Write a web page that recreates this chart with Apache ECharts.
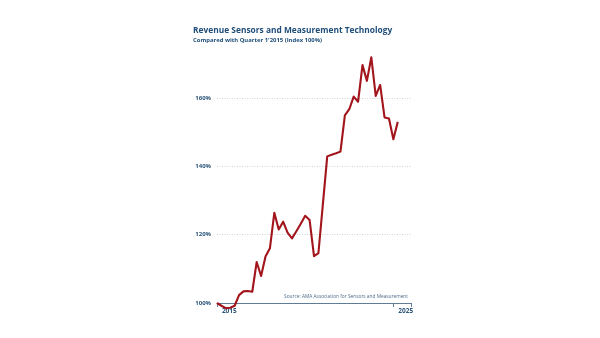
<!DOCTYPE html>
<html>
<head>
<meta charset="utf-8">
<script src="https://cdn.jsdelivr.net/npm/echarts@6/dist/echarts.min.js"></script>
<style>
html,body{margin:0;padding:0;background:#fff;}
#chart{width:600px;height:338px;}
</style>
</head>
<body>
<div id="chart"></div>
<script>
// Years shown on the axis (one band per year)
const years = ['2015','2016','2017','2018','2019','2020','2021','2022','2023','2024','2025'];
// Quarterly index values (Q1 2015 = 100%), Q1 2015 .. Q2 2025
const quarters = [
  'Q1 2015','Q2 2015','Q3 2015','Q4 2015',
  'Q1 2016','Q2 2016','Q3 2016','Q4 2016',
  'Q1 2017','Q2 2017','Q3 2017','Q4 2017',
  'Q1 2018','Q2 2018','Q3 2018','Q4 2018',
  'Q1 2019','Q2 2019','Q3 2019','Q4 2019',
  'Q1 2020','Q2 2020','Q3 2020','Q4 2020',
  'Q1 2021','Q2 2021','Q3 2021','Q4 2021',
  'Q1 2022','Q2 2022','Q3 2022','Q4 2022',
  'Q1 2023','Q2 2023','Q3 2023','Q4 2023',
  'Q1 2024','Q2 2024','Q3 2024','Q4 2024',
  'Q1 2025','Q2 2025'
];
const revenueIndex = [
  100, 99.2, 98.5, 98.6,
  99.2, 102.3, 103.4, 103.5,
  103.3, 112.0, 107.9, 113.6,
  116.0, 126.4, 121.5, 123.8,
  120.6, 118.9, 121.0, 123.2,
  125.5, 124.3, 113.7, 114.6,
  128.7, 142.9, 143.4, 143.8,
  144.3, 154.9, 156.7, 160.4,
  158.9, 169.6, 165.0, 171.9,
  160.6, 163.8, 154.3, 154.0,
  147.9, 153.0
];
const yTicks = { min: 100, max: 180, step: 20 };

const titleColor = '#1f4e79';
const labelColor = '#2b5478';
const font = '"Open Sans", sans-serif';

const chart = echarts.init(document.getElementById('chart'), null, { renderer: 'canvas' });
chart.setOption({
  animation: false,
  backgroundColor: '#ffffff',
  title: {
    text: 'Revenue Sensors and Measurement Technology',
    subtext: "Compared with Quarter 1'2015 (Index 100%)",
    left: 193,
    top: 26.5,
    padding: 0,
    itemGap: 3,
    textStyle: { fontFamily: font, fontWeight: 'bold', fontSize: 8.4, color: titleColor },
    subtextStyle: { fontFamily: font, fontWeight: 'bold', fontSize: 5.9, color: titleColor }
  },
  graphic: [{
    type: 'text',
    right: 192,
    top: 294.5,
    style: {
      text: 'Source: AMA Association for Sensors and Measurement',
      font: '4.8px ' + font,
      fill: '#4d6d8c',
      textAlign: 'right'
    }
  }],
  grid: { left: 217, right: 189, top: 29.6, bottom: 35, containLabel: false },
  xAxis: [{
    type: 'value',
    min: 0,
    max: years.length * 4,
    show: false
  }, {
    type: 'category',
    data: years,
    boundaryGap: true,
    position: 'bottom',
    axisLine: { show: true, lineStyle: { color: '#5f7d98', width: 1.2 } },
    axisTick: { show: true, length: 4, lineStyle: { color: '#5f7d98', width: 1 } },
    axisLabel: {
      interval: function (idx) { return idx === 0 || idx === years.length - 1; },
      fontFamily: font, fontWeight: 'bold', fontSize: 6.5, color: labelColor,
      margin: 4.5, padding: [0, 0, 0, 7]
    },
    splitLine: { show: false }
  }],
  yAxis: {
    type: 'value',
    min: yTicks.min,
    max: yTicks.max,
    interval: yTicks.step,
    axisLine: { show: false },
    axisTick: { show: false },
    axisLabel: {
      formatter: '{value}%',
      showMaxLabel: false,
      fontFamily: font, fontWeight: 'bold', fontSize: 6, color: labelColor,
      margin: 6
    },
    splitLine: {
      show: true,
      showMinLine: false,
      showMaxLine: false,
      lineStyle: { color: '#c8c8c8', type: [1, 1.5], width: 0.8 }
    }
  },
  series: [{
    type: 'line',
    xAxisIndex: 0,
    data: revenueIndex.map((v, i) => [i, v]),
    name: 'Revenue index',
    showSymbol: false,
    symbol: 'none',
    clip: false,
    lineStyle: { color: '#a3151c', width: 2.1, join: 'round' },
    z: 3
  }]
});
</script>
</body>
</html>
